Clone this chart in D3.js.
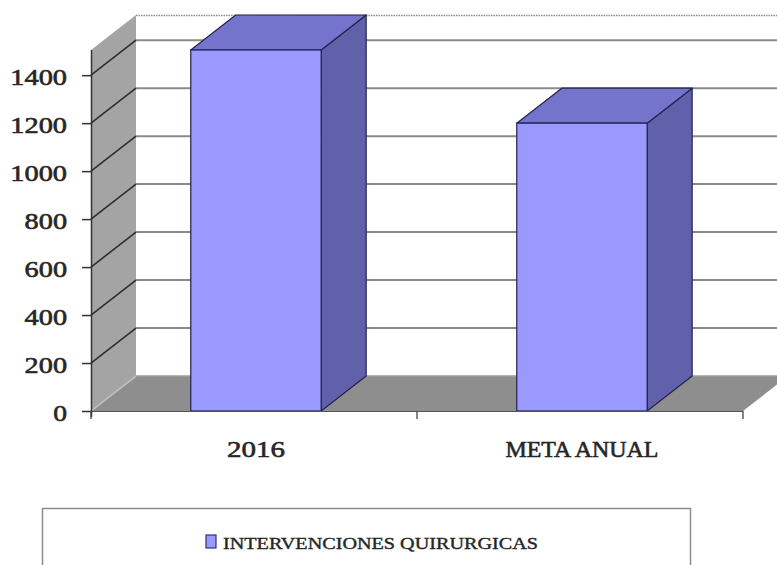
<!DOCTYPE html>
<html>
<head>
<meta charset="utf-8">
<script src="https://cdn.jsdelivr.net/npm/d3@7/dist/d3.min.js"></script>
<style>
  html, body { margin: 0; padding: 0; background: #fff; }
  svg { display: block; }
</style>
</head>
<body>
<svg id="chart" width="777" height="565"></svg>
<script>
// ---- data ----
const categories = ["2016", "META ANUAL"];
const values = [1505, 1200];
const yTicks = [0, 200, 400, 600, 800, 1000, 1200, 1400];
const seriesName = "INTERVENCIONES QUIRURGICAS";

// ---- layout ----
const W = 777, H = 565;
const x0 = 91, x1 = 743, yBase = 411, yTop = 50;
const dx = 45, dy = -35;
const svg = d3.select("#chart");

const yMax = d3.max(values);
const y = d3.scaleLinear().domain([0, yMax]).range([yBase, yTop]);
const x = d3.scaleBand().domain(categories).range([x0, x1])
  .paddingInner(0.6).paddingOuter(0.3).align(0.51);

const serif = "'Liberation Serif', 'Times New Roman', serif";
const textCol = "#262626";

// back wall
svg.append("rect").attr("x", x0 + dx).attr("y", y(yMax) + dy)
  .attr("width", W).attr("height", yBase - y(yMax)).attr("fill", "#fff");
svg.append("line").attr("x1", x0 + dx).attr("x2", W)
  .attr("y1", y(yMax) + dy + 0.5).attr("y2", y(yMax) + dy + 0.5)
  .attr("stroke", "#8a8a8a").attr("stroke-width", 1.4).attr("stroke-dasharray", "1.5,1");

// back wall gridlines
svg.append("g").selectAll("line").data(yTicks.filter(d => d > 0)).join("line")
  .attr("x1", x0 + dx).attr("x2", W)
  .attr("y1", d => y(d) + dy).attr("y2", d => y(d) + dy)
  .attr("stroke", "#8a8a8a").attr("stroke-width", 2);

// side wall
svg.append("polygon")
  .attr("points", [[x0, yBase], [x0, y(yMax)], [x0 + dx, y(yMax) + dy], [x0 + dx, yBase + dy]].join(" "))
  .attr("fill", "#a4a4a4");

// floor
svg.append("polygon")
  .attr("points", [[x0, yBase], [x1, yBase], [x1 + dx, yBase + dy], [x0 + dx, yBase + dy]].join(" "))
  .attr("fill", "#8e8e8e");
svg.append("line").attr("x1", x0 + dx).attr("x2", W).attr("y1", yBase + dy).attr("y2", yBase + dy)
  .attr("stroke", "#9c9c9c").attr("stroke-width", 1.5);

// side wall diagonals
svg.append("g").selectAll("line").data(yTicks).join("line")
  .attr("x1", x0).attr("y1", d => y(d))
  .attr("x2", x0 + dx).attr("y2", d => y(d) + dy)
  .attr("stroke", d => d === 0 ? "#bdbdbd" : "#2e2e2e").attr("stroke-width", 1.6);

// bars
const bw = x.bandwidth();
const bars = svg.append("g").selectAll("g").data(categories.map((c, i) => ({c, v: values[i]}))).join("g");
bars.append("polygon") // side
  .attr("points", d => {
    const xr = x(d.c) + bw, yv = y(d.v);
    return [[xr, yv], [xr + dx, yv + dy], [xr + dx, yBase + dy], [xr, yBase]].join(" ");
  })
  .attr("fill", "#6161ab").attr("stroke", "#23234d").attr("stroke-width", 1.2).attr("stroke-linejoin", "round");
bars.append("polygon") // top
  .attr("points", d => {
    const xl = x(d.c), yv = y(d.v);
    return [[xl, yv], [xl + dx, yv + dy], [xl + bw + dx, yv + dy], [xl + bw, yv]].join(" ");
  })
  .attr("fill", "#7474cc").attr("stroke", "#23234d").attr("stroke-width", 1.2).attr("stroke-linejoin", "round");
bars.append("rect") // front
  .attr("x", d => x(d.c)).attr("y", d => y(d.v))
  .attr("width", bw).attr("height", d => yBase - y(d.v))
  .attr("fill", "#9999ff").attr("stroke", "#23234d").attr("stroke-width", 1.2);

// front floor edge
svg.append("line").attr("x1", x0).attr("x2", x1).attr("y1", yBase + 0.5).attr("y2", yBase + 0.5)
  .attr("stroke", "#555").attr("stroke-width", 1.2);

// y axis
const yAxis = svg.append("g").attr("transform", `translate(${x0},0)`)
  .call(d3.axisLeft(y).tickValues(yTicks).tickFormat(d3.format("d")).tickSize(9).tickSizeOuter(0));
yAxis.select(".domain").attr("d", `M0.5,${yBase + 6}V${y(yMax)}`).attr("stroke", "#333").attr("stroke-width", 1.5);
yAxis.selectAll(".tick line").attr("stroke", "#333").attr("stroke-width", 1.5);
yAxis.selectAll(".tick text")
  .attr("font-family", serif).attr("font-size", 23).attr("fill", textCol)
  .attr("stroke", textCol).attr("stroke-width", 0.6)
  .attr("dy", "0.42em").attr("x", -24)
  .attr("textLength", d => String(d).length * 14.3 - 0.5)
  .attr("lengthAdjust", "spacingAndGlyphs");

// x axis
const xAxis = svg.append("g").attr("transform", `translate(0,${yBase})`)
  .call(d3.axisBottom(x).tickSize(0).tickPadding(29));
xAxis.select(".domain").remove();
xAxis.selectAll(".tick text")
  .attr("font-family", serif).attr("font-size", 24).attr("fill", textCol)
  .attr("stroke", textCol).attr("stroke-width", 0.6)
  .attr("textLength", d => d === "2016" ? 58 : 153)
  .attr("lengthAdjust", "spacingAndGlyphs");
svg.append("g").selectAll("line").data([x0, x0 + x.step(), x1]).join("line")
  .attr("x1", d => d).attr("x2", d => d).attr("y1", yBase).attr("y2", yBase + 8)
  .attr("stroke", "#444").attr("stroke-width", 1.3);

// legend
svg.append("rect").attr("x", 42.5).attr("y", 508.5).attr("width", 648).attr("height", 80)
  .attr("fill", "#fff").attr("stroke", "#8c8c8c").attr("stroke-width", 1.5);
svg.append("rect").attr("x", 206).attr("y", 535).attr("width", 10).attr("height", 13)
  .attr("fill", "#9999ff").attr("stroke", "#333366").attr("stroke-width", 1.2);
svg.append("text").attr("x", 223).attr("y", 549)
  .attr("font-family", serif).attr("font-size", 17).attr("fill", textCol)
  .attr("stroke", textCol).attr("stroke-width", 0.4)
  .attr("textLength", 315).attr("lengthAdjust", "spacingAndGlyphs")
  .text(seriesName);
</script>
</body>
</html>
